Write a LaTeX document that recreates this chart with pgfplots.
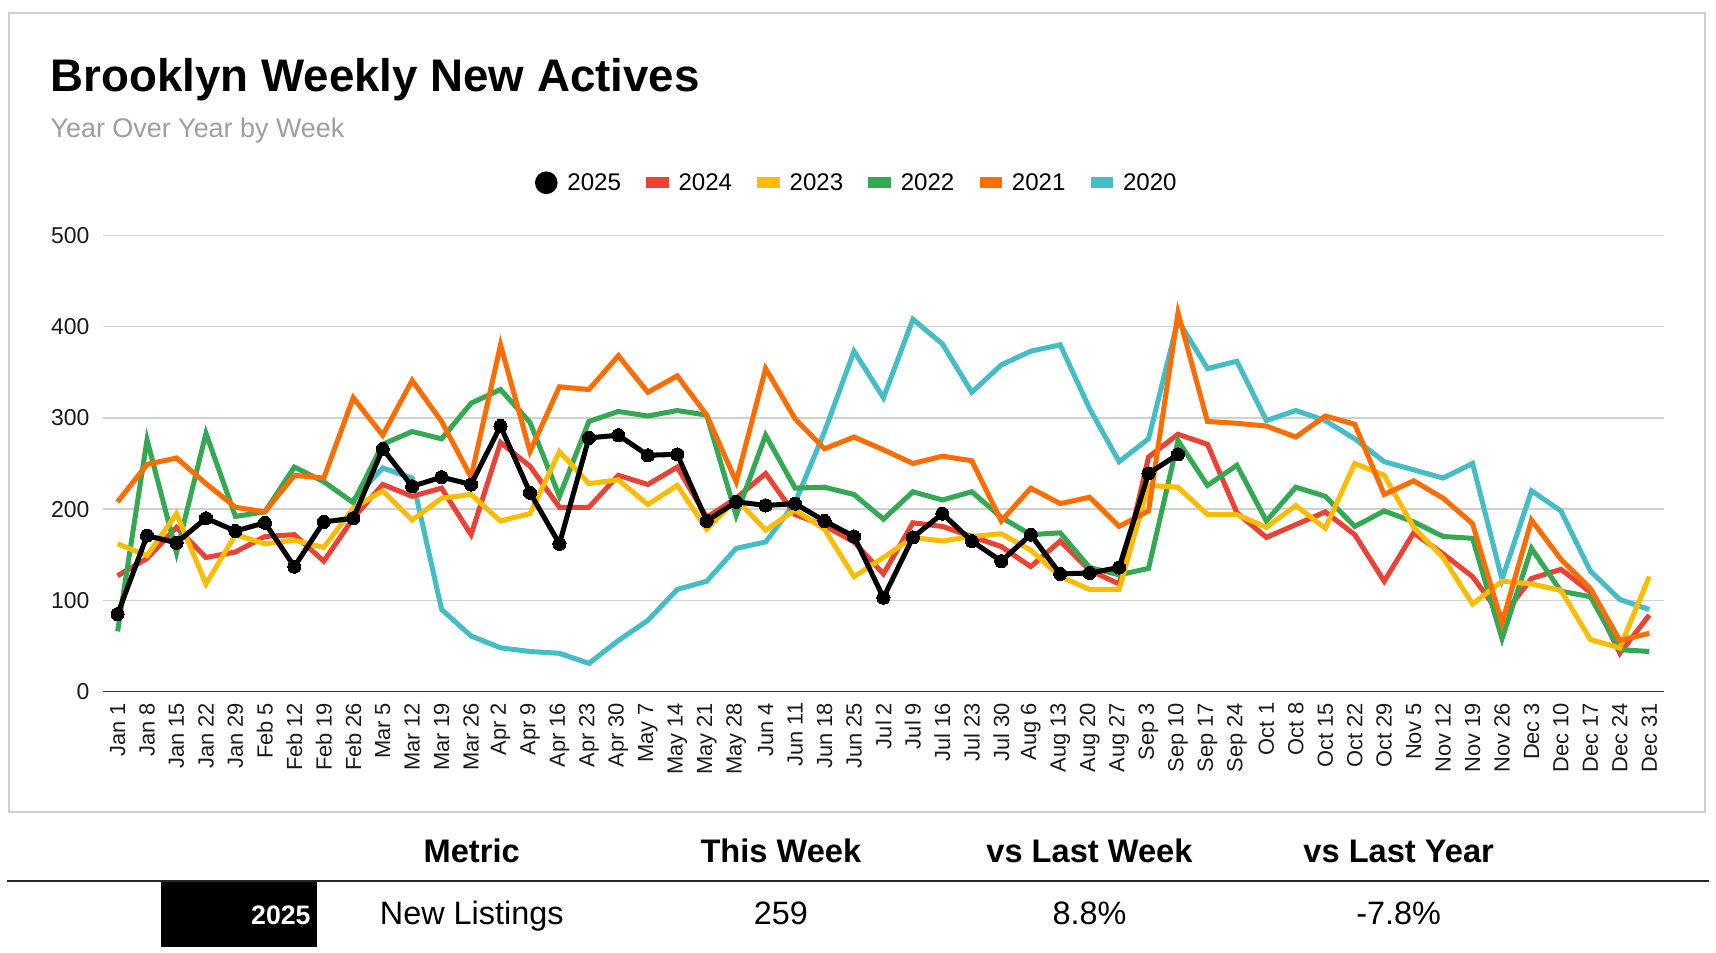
\documentclass[border=0pt]{standalone}
\usepackage{fontspec}
\setmainfont{Liberation Sans}
\usepackage{pgfplots}
\pgfplotsset{compat=1.18}
\usepackage{pgfplotstable}

\definecolor{c2024}{HTML}{EA4335}
\definecolor{c2023}{HTML}{FBBC04}
\definecolor{c2022}{HTML}{34A853}
\definecolor{c2021}{HTML}{FF6D01}
\definecolor{c2020}{HTML}{46BDC6}
\definecolor{gridgray}{HTML}{D0D0D0}
\definecolor{subgray}{HTML}{9E9E9E}

% weekly new actives, one column per year
\pgfplotstableread{
wk y2025 y2024 y2023 y2022 y2021 y2020
0  85  127 162 66  208 nan
1  171 146 149 276 249 nan
2  163 180 195 152 256 nan
3  190 147 118 283 228 nan
4  176 153 172 192 202 nan
5  185 170 162 197 197 nan
6  137 172 166 246 237 nan
7  186 143 158 230 234 nan
8  190 190 201 207 322 210
9  266 227 220 271 281 245
10 225 214 188 285 341 234
11 235 223 212 277 296 90
12 227 172 216 316 235 61
13 291 273 187 331 380 48
14 218 247 195 295 263 44
15 162 202 263 214 334 42
16 278 202 228 296 331 31
17 281 237 232 307 368 56
18 259 227 205 302 328 78
19 260 246 226 308 346 112
20 187 191 178 303 303 121
21 208 212 211 193 230 157
22 204 239 177 281 354 164
23 206 194 199 223 299 207
24 187 182 178 224 266 285
25 170 164 126 216 279 373
26 103 129 147 189 265 322
27 169 185 169 219 250 408
28 195 181 165 210 258 381
29 165 170 170 219 253 328
30 143 159 173 191 187 358
31 172 137 155 172 223 373
32 129 165 126 174 206 380
33 130 133 112 136 213 310
34 136 118 112 128 181 252
35 239 257 226 135 198 277
36 260 282 224 275 415 407
37 nan 271 194 226 296 354
38 nan 196 194 248 294 362
39 nan 169 180 187 291 297
40 nan 183 204 224 279 308
41 nan 197 179 214 302 297
42 nan 172 250 181 293 277
43 nan 121 237 198 216 252
44 nan 174 180 186 231 243
45 nan 151 147 170 212 234
46 nan 126 96  168 184 250
47 nan 82  121 58  75  123
48 nan 124 118 157 188 220
49 nan 134 111 110 145 198
50 nan 109 57  104 113 132
51 nan 42  48  46  56  101
52 nan 84  126 44  64  90
}\weekly

\begin{document}
\begin{tikzpicture}
\useasboundingbox (0pt,0pt) rectangle (1568pt,870pt);
% card
\draw[gridgray, line width=1.5pt] (8pt,128pt) rectangle (1558pt,858pt);
\node[anchor=base west, inner sep=0pt, font=\fontsize{41.75}{44}\selectfont\bfseries]
  at (46pt,786pt) {Brooklyn Weekly New Actives};
\node[anchor=base west, inner sep=0pt, text=subgray, font=\fontsize{24.6}{26}\selectfont]
  at (46pt,744pt) {Year Over Year by Week};

\begin{axis}[
  at={(94pt,238pt)}, anchor=south west,
  width=1426.5pt, height=417pt, scale only axis,
  xmin=-0.5, xmax=52.5, ymin=0, ymax=500,
  axis x line=bottom, axis y line=left,
  x axis line style={-, black!80, line width=1.5pt},
  y axis line style={draw=none},
  major tick length=0pt, tick style={draw=none},
  ymajorgrids, major grid style={gridgray, line width=1.3pt},
  ytick={0,100,...,500},
  xtick={0,...,52},
  xticklabels={Jan 1,Jan 8,Jan 15,Jan 22,Jan 29,Feb 5,Feb 12,Feb 19,Feb 26,Mar 5,Mar 12,Mar 19,Mar 26,Apr 2,Apr 9,Apr 16,Apr 23,Apr 30,May 7,May 14,May 21,May 28,Jun 4,Jun 11,Jun 18,Jun 25,Jul 2,Jul 9,Jul 16,Jul 23,Jul 30,Aug 6,Aug 13,Aug 20,Aug 27,Sep 3,Sep 10,Sep 17,Sep 24,Oct 1,Oct 8,Oct 15,Oct 22,Oct 29,Nov 5,Nov 12,Nov 19,Nov 26,Dec 3,Dec 10,Dec 17,Dec 24,Dec 31},
  x tick label style={rotate=90, anchor=east, inner sep=0pt, font=\fontsize{20}{20}\selectfont, text=black!90},
  y tick label style={anchor=east, inner sep=0pt, font=\fontsize{21}{21}\selectfont, text=black!90},
  xticklabel shift=10pt, yticklabel shift=12pt,
  /pgf/number format/assume math mode=true,
  unbounded coords=jump,
  legend columns=-1,
  legend style={draw=none, fill=none, at={(0.4823,1.1151)}, anchor=center,
    font=\fontsize{22}{22}\selectfont, nodes={inner sep=0pt},
    /tikz/every odd column/.append style={column sep=9pt},
    /tikz/every even column/.append style={column sep=23pt}},
  every axis plot/.append style={line width=4.6pt, line join=miter, miter limit=6},
]
% legend in the reference's order
\addlegendimage{legend image code/.code={\fill[black] (8pt,0pt) circle (8pt);}}
\addlegendimage{c2024, legend image code/.code={\fill (0pt,-2.7pt) rectangle (16pt,2.7pt);}}
\addlegendimage{c2023, legend image code/.code={\fill (0pt,-2.7pt) rectangle (16pt,2.7pt);}}
\addlegendimage{c2022, legend image code/.code={\fill (0pt,-2.7pt) rectangle (16pt,2.7pt);}}
\addlegendimage{c2021, legend image code/.code={\fill (0pt,-2.7pt) rectangle (16pt,2.7pt);}}
\addlegendimage{c2020, legend image code/.code={\fill (0pt,-2.7pt) rectangle (16pt,2.7pt);}}
\legend{2025,2024,2023,2022,2021,2020}

% series, in the stacking order seen in the reference
\addplot[c2020, forget plot] table[x=wk, y=y2020] {\weekly};
\addplot[c2024, forget plot] table[x=wk, y=y2024] {\weekly};
\addplot[c2022, forget plot] table[x=wk, y=y2022] {\weekly};
\addplot[c2023, forget plot] table[x=wk, y=y2023] {\weekly};
\addplot[c2021, forget plot] table[x=wk, y=y2021] {\weekly};
\addplot[black, forget plot, mark=*, mark size=6pt, mark options={fill=black, line width=0pt}]
  table[x=wk, y=y2025] {\weekly};
\end{axis}

% summary table
\draw[black!85, line width=2pt] (6pt,65pt) -- (1562pt,65pt);
\fill[black] (147pt,5pt) rectangle (290pt,64pt);
\begin{scope}[every node/.style={anchor=base, inner sep=0pt}]
\node[font=\fontsize{29.8}{30}\selectfont\bfseries] at (431pt,82pt) {Metric};
\node[font=\fontsize{29.8}{30}\selectfont\bfseries] at (713.5pt,82pt) {This Week};
\node[font=\fontsize{29.8}{30}\selectfont\bfseries] at (995.5pt,82pt) {vs Last Week};
\node[font=\fontsize{29.8}{30}\selectfont\bfseries] at (1278pt,82pt) {vs Last Year};
\node[anchor=base east, text=white, font=\fontsize{24.4}{25}\selectfont\bfseries] at (284pt,25.5pt) {2025};
\node[anchor=base west, font=\fontsize{29.6}{30}\selectfont] at (347pt,25pt) {New Listings};
\node[font=\fontsize{29.6}{30}\selectfont] at (713.5pt,25pt) {259};
\node[font=\fontsize{29.6}{30}\selectfont] at (995.5pt,25pt) {8.8\%};
\node[font=\fontsize{29.6}{30}\selectfont] at (1278pt,25pt) {-7.8\%};
\end{scope}
\end{tikzpicture}
\end{document}
